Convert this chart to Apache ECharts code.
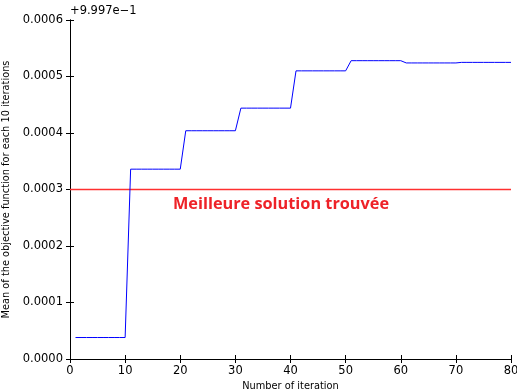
<!DOCTYPE html>
<html>
<head>
<meta charset="utf-8">
<script src="https://cdn.jsdelivr.net/npm/echarts@6/dist/echarts.min.js"></script>
<style>
  html, body { margin: 0; padding: 0; background: #fff; }
  #chart { width: 517px; height: 390px; }
</style>
</head>
<body>
<div id="chart"></div>
<script>
// Iteration numbers 1..80
const iterations = [
  1, 2, 3, 4, 5, 6, 7, 8, 9, 10,
  11, 12, 13, 14, 15, 16, 17, 18, 19, 20,
  21, 22, 23, 24, 25, 26, 27, 28, 29, 30,
  31, 32, 33, 34, 35, 36, 37, 38, 39, 40,
  41, 42, 43, 44, 45, 46, 47, 48, 49, 50,
  51, 52, 53, 54, 55, 56, 57, 58, 59, 60,
  61, 62, 63, 64, 65, 66, 67, 68, 69, 70,
  71, 72, 73, 74, 75, 76, 77, 78, 79, 80
];
// Mean of the objective function (offset from 0.9997)
const meanObjective = [
  0.000038, 0.000038, 0.000038, 0.000038, 0.000038, 0.000038, 0.000038, 0.000038, 0.000038, 0.000038,
  0.000336, 0.000336, 0.000336, 0.000336, 0.000336, 0.000336, 0.000336, 0.000336, 0.000336, 0.000336,
  0.000404, 0.000404, 0.000404, 0.000404, 0.000404, 0.000404, 0.000404, 0.000404, 0.000404, 0.000404,
  0.000444, 0.000444, 0.000444, 0.000444, 0.000444, 0.000444, 0.000444, 0.000444, 0.000444, 0.000444,
  0.000510, 0.000510, 0.000510, 0.000510, 0.000510, 0.000510, 0.000510, 0.000510, 0.000510, 0.000510,
  0.000528, 0.000528, 0.000528, 0.000528, 0.000528, 0.000528, 0.000528, 0.000528, 0.000528, 0.000528,
  0.000524, 0.000524, 0.000524, 0.000524, 0.000524, 0.000524, 0.000524, 0.000524, 0.000524, 0.000524,
  0.000525, 0.000525, 0.000525, 0.000525, 0.000525, 0.000525, 0.000525, 0.000525, 0.000525, 0.000525
];
// Threshold: best solution found
const bestSolutionX = [0, 80];
const bestSolutionY = [0.0003, 0.0003];
const bestSolutionLabel = 'Meilleure solution trouvée';
const offsetText = '+9.997e\u22121';
const xTitle = 'Number of iteration';
const yTitle = 'Mean of the objective function for each 10 iterations';

const FONT = 'DejaVu Sans';
const RED = '#ff3030';
const chart = echarts.init(document.getElementById('chart'), null, { renderer: 'canvas' });

const spine = { show: true, lineStyle: { color: '#000', width: 1 } };
const innerTick = { show: true, inside: true, length: 4, lineStyle: { color: '#000', width: 1 } };

chart.setOption({
  animation: false,
  backgroundColor: '#fff',
  grid: {
    left: 70, right: 6, top: 20, bottom: 31, show: false,
    containLabel: false, outerBoundsMode: 'none'
  },
  xAxis: [
    {
      type: 'value', min: 0, max: 80, interval: 10, position: 'bottom',
      axisLine: spine, axisTick: innerTick, splitLine: { show: false },
      axisLabel: { color: '#000', fontFamily: FONT, fontSize: 11.5, margin: 6 },
      name: xTitle, nameLocation: 'middle', nameGap: 18,
      nameTextStyle: { color: '#000', fontFamily: FONT, fontSize: 9.8 }
    },
    {
      type: 'value', min: 0, max: 80, interval: 10, position: 'top',
      axisLine: spine, axisTick: innerTick, splitLine: { show: false },
      axisLabel: { show: false }
    }
  ],
  yAxis: [
    {
      type: 'value', min: 0, max: 0.0006, interval: 0.0001, position: 'left',
      axisLine: spine, axisTick: innerTick, splitLine: { show: false },
      axisLabel: {
        color: '#000', fontFamily: FONT, fontSize: 11.5, margin: 7,
        formatter: v => v.toFixed(4)
      },
      name: yTitle, nameLocation: 'middle', nameGap: 55, nameRotate: 90,
      nameTextStyle: { color: '#000', fontFamily: FONT, fontSize: 9.8 }
    },
    {
      type: 'value', min: 0, max: 0.0006, interval: 0.0001, position: 'right',
      axisLine: spine, axisTick: innerTick, splitLine: { show: false },
      axisLabel: { show: false }
    }
  ],
  series: [
    {
      type: 'line',
      name: 'best',
      data: bestSolutionX.map((x, i) => [x, bestSolutionY[i]]),
      showSymbol: false,
      silent: true,
      itemStyle: { color: RED },
      lineStyle: { color: RED, width: 1.4 },
      z: 2
    },
    {
      type: 'line',
      name: 'mean',
      data: iterations.map((x, i) => [x, meanObjective[i]]),
      showSymbol: false,
      itemStyle: { color: '#0000ff' },
      lineStyle: { color: '#0000ff', width: 1 },
      z: 3
    }
  ],
  graphic: [
    {
      type: 'text', left: 70, top: 5,
      style: { text: offsetText, fill: '#000', font: '11.5px "DejaVu Sans"' }
    },
    {
      type: 'text', left: 173, top: 196,
      style: { text: bestSolutionLabel, fill: '#ee2228', font: 'bold 16.3px "Open Sans"' }
    }
  ]
});
</script>
</body>
</html>
